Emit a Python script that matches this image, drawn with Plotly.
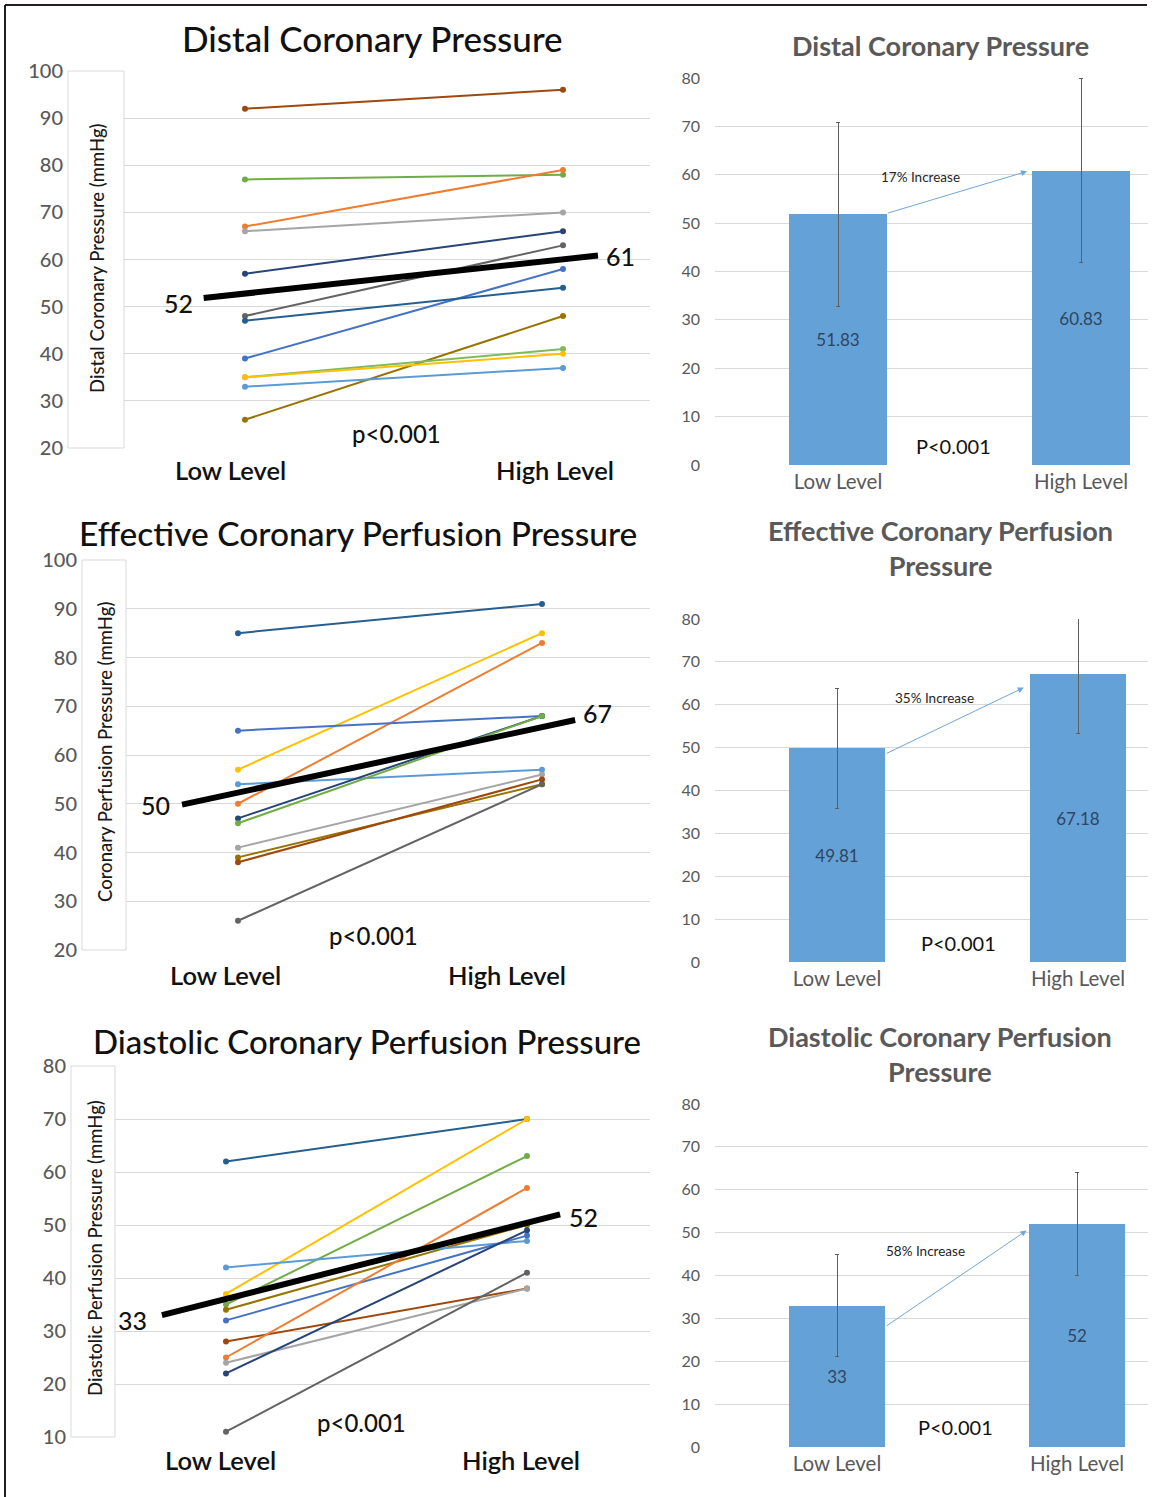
import plotly.graph_objects as go

W, H = 1158, 1497
FONT = "Lato"

def px(x):
    return x / W

def py(y):
    return 1 - y / H

# ---------------- data ----------------
categories = ["Low Level", "High Level"]

# Distal coronary pressure (individual subjects)
dcp_low = [92, 77, 67, 66, 57, 48, 39, 47, 26, 35, 35, 33]
dcp_high = [96, 78, 79, 70, 66, 63, 58, 54, 48, 41, 40, 37]
dcp_colors = ["#9E480E", "#70AD47", "#ED7D31", "#A5A5A5", "#264478", "#636363",
              "#4472C4", "#255E91", "#997300", "#7FBA5C", "#FFC000", "#5B9BD5"]

# Effective coronary perfusion pressure
ecpp_low = [85, 57, 50, 65, 54, 47, 46, 41, 39, 38, 26]
ecpp_high = [91, 85, 83, 68, 57, 68, 68, 56, 54, 55, 54]
ecpp_colors = ["#255E91", "#FFC000", "#ED7D31", "#4472C4", "#5B9BD5", "#264478",
               "#70AD47", "#A5A5A5", "#997300", "#9E480E", "#636363"]

# Diastolic coronary perfusion pressure
dpp_low = [62, 37, 35, 34, 42, 32, 28, 25, 24, 22, 11]
dpp_high = [70, 70, 63, 50, 47, 48, 38, 57, 38, 49, 41]
dpp_colors = ["#255E91", "#FFC000", "#70AD47", "#997300", "#5B9BD5", "#4472C4",
              "#9E480E", "#ED7D31", "#A5A5A5", "#264478", "#636363"]

# Group means and SD
mean_low = [51.83, 49.81, 33]
mean_high = [60.83, 67.18, 52]
mean_low_label = ["52", "50", "33"]
mean_high_label = ["61", "67", "52"]
sd_low = [19, 14, 12]
sd_high = [19, 14, 12]
increase_text = ["17% Increase", "35% Increase", "58% Increase"]
p_text_line = "p<0.001"
p_text_bar = "P<0.001"

line_titles = ["Distal Coronary Pressure", "Effective Coronary Perfusion Pressure",
               "Diastolic Coronary Perfusion Pressure"]
bar_titles = ["Distal Coronary Pressure", "Effective Coronary Perfusion<br>Pressure",
              "Diastolic Coronary Perfusion<br>Pressure"]
y_titles = ["Distal Coronary Pressure (mmHg)", "Coronary Perfusion Pressure (mmHg)",
            "Diastolic Perfusion Pressure (mmHg)"]

series_low = [dcp_low, ecpp_low, dpp_low]
series_high = [dcp_high, ecpp_high, dpp_high]
series_colors = [dcp_colors, ecpp_colors, dpp_colors]

# ---------------- layout geometry (pixels) ----------------
line_geo = [
    dict(xdom=(68, 650), c=(245, 563), ydom=(71, 448), yr=(20, 100), box=(68, 124),
         title=(372, 38), tsize=35, ytitle=(97, 258), cats=((230, 470), (555, 470)),
         p=(396, 434), mx=(-0.13, 1.11), mlab=((178, 303), (620, 256))),
    dict(xdom=(82, 650), c=(238, 542), ydom=(560, 950), yr=(20, 100), box=(82, 126),
         title=(358, 533), tsize=33.5, ytitle=(105, 752), cats=((225, 975), (507, 975)),
         p=(373, 935), mx=(-0.184, 1.109), mlab=((155, 805), (597, 713))),
    dict(xdom=(71, 650), c=(226, 527), ydom=(1066, 1437), yr=(10, 80), box=(71, 115),
         title=(367, 1041), tsize=33, ytitle=(95, 1248), cats=((220, 1460), (521, 1460)),
         p=(361, 1422), mx=(-0.213, 1.11), mlab=((132, 1320), (583, 1217))),
]
bar_geo = [
    dict(xdom=(715, 1148), c=(838, 1081), ydom=(78, 465), title=(940, 46),
         inc=(920, 177), p=(953, 446), arrow=((0.2, 52), (0.778, 60.7))),
    dict(xdom=(715, 1148), c=(837, 1078), ydom=(619, 962), title=(940, 548),
         inc=(935, 698), p=(958, 943), arrow=((0.2, 48.5), (0.775, 64))),
    dict(xdom=(715, 1148), c=(837, 1077), ydom=(1104, 1447), title=(940, 1054),
         inc=(925, 1251), p=(955, 1427), arrow=((0.2, 28), (0.79, 50.5))),
]

fig = go.Figure()
annotations = []
shapes = []
layout_axes = {}

GRID = "#D9D9D9"
TICK = "#595959"


def txt(x, y, text, size, color="#111111", angle=0, weight=400):
    return dict(xref="paper", yref="paper", x=px(x), y=py(y), text=text,
                xanchor="center", yanchor="middle", textangle=angle, showarrow=False,
                font=dict(family=FONT, size=size, color=color, weight=weight))


# ---------------- line panels ----------------
for i, g in enumerate(line_geo):
    n = i + 1
    xa = "x" if n == 1 else f"x{n}"
    ya = "y" if n == 1 else f"y{n}"
    c0, c1 = g["c"]
    xr = [(g["xdom"][0] - c0) / (c1 - c0), (g["xdom"][1] - c0) / (c1 - c0)]
    for lo, hi, col in zip(series_low[i], series_high[i], series_colors[i]):
        fig.add_trace(go.Scatter(
            x=[0, 1], y=[lo, hi], mode="lines+markers",
            line=dict(color=col, width=2), marker=dict(color=col, size=6),
            xaxis=xa, yaxis=ya, showlegend=False, hoverinfo="y"))
    fig.add_trace(go.Scatter(
        x=list(g["mx"]), y=[mean_low[i], mean_high[i]], mode="lines",
        line=dict(color="black", width=6), xaxis=xa, yaxis=ya,
        showlegend=False, hoverinfo="y"))
    layout_axes[f"xaxis{'' if n == 1 else n}"] = dict(
        domain=[px(g["xdom"][0]), px(g["xdom"][1])], range=xr, showgrid=False,
        zeroline=False, showticklabels=False, showline=False, anchor=ya,
        fixedrange=True, automargin=False)
    layout_axes[f"yaxis{'' if n == 1 else n}"] = dict(
        domain=[py(g["ydom"][1]), py(g["ydom"][0])], range=list(g["yr"]), dtick=10,
        showgrid=True, gridcolor=GRID, gridwidth=1, zeroline=False, showline=False,
        tickfont=dict(family=FONT, size=20, color=TICK, weight=500), anchor=xa, ticks="",
        ticklabelstandoff=4, automargin=False)
    # white axis-title box
    shapes.append(dict(type="rect", xref="paper", yref="paper",
                       x0=px(g["box"][0]), x1=px(g["box"][1]),
                       y0=py(g["ydom"][1]), y1=py(g["ydom"][0]),
                       fillcolor="white", line=dict(color=GRID, width=1), layer="above"))
    annotations.append(txt(g["ytitle"][0], g["ytitle"][1], y_titles[i], 18.5, "#1a1a1a", -90, 500))
    annotations.append(txt(g["title"][0], g["title"][1], line_titles[i], g["tsize"], "#111111", 0, 500))
    for (cx, cy), lab in zip(g["cats"], categories):
        annotations.append(txt(cx, cy, lab, 25.5, "#111111", 0, 600))
    annotations.append(txt(g["p"][0], g["p"][1], p_text_line, 24, "#111111", 0, 500))
    for (lx, ly), lab in zip(g["mlab"], [mean_low_label[i], mean_high_label[i]]):
        annotations.append(txt(lx, ly, lab, 25, "#111111", 0, 500))

# ---------------- bar panels ----------------
for i, g in enumerate(bar_geo):
    n = i + 4
    xa, ya = f"x{n}", f"y{n}"
    c0, c1 = g["c"]
    xr = [(g["xdom"][0] - c0) / (c1 - c0), (g["xdom"][1] - c0) / (c1 - c0)]
    vals = [mean_low[i], mean_high[i]]
    fig.add_trace(go.Bar(
        x=[0, 1], y=vals, width=0.4, xaxis=xa, yaxis=ya, showlegend=False,
        marker=dict(color="#64A1D7", line=dict(width=0)),
        text=[f"{v:g}" for v in vals], textposition="inside", insidetextanchor="middle",
        textangle=0, textfont=dict(family=FONT, size=17, color="#2F4560"),
        error_y=dict(type="data", array=[sd_low[i], sd_high[i]], color="#5f5f5f",
                     thickness=1, width=2),
        cliponaxis=False, hoverinfo="y"))
    layout_axes[f"xaxis{n}"] = dict(
        domain=[px(g["xdom"][0]), px(g["xdom"][1])], range=xr, showgrid=False,
        zeroline=False, showline=False, tickvals=[0, 1], ticktext=categories,
        tickfont=dict(family=FONT, size=20.5, color=TICK), anchor=ya, ticks="",
        ticklabelstandoff=2, automargin=False)
    layout_axes[f"yaxis{n}"] = dict(
        domain=[py(g["ydom"][1]), py(g["ydom"][0])], range=[0, 80], dtick=10,
        showgrid=True, gridcolor=GRID, gridwidth=1, zeroline=False, showline=False,
        tickfont=dict(family=FONT, size=16, color=TICK), anchor=xa, ticks="",
        ticklabelstandoff=14, automargin=False)
    annotations.append(txt(g["title"][0], g["title"][1], bar_titles[i], 27, "#595959", 0, 700))
    annotations.append(txt(g["inc"][0], g["inc"][1], increase_text[i], 13.5, "#262626"))
    annotations.append(txt(g["p"][0], g["p"][1], p_text_bar, 20))
    (sx, sy), (ex, ey) = g["arrow"]
    annotations.append(dict(xref=xa, yref=ya, axref=xa, ayref=ya, x=ex, y=ey, ax=sx, ay=sy,
                            text="", showarrow=True, arrowhead=2, arrowsize=1.2,
                            arrowwidth=1, arrowcolor="#6FA6DA", standoff=0))

# frame lines
shapes.append(dict(type="line", xref="paper", yref="paper", x0=px(5), x1=px(1147),
                   y0=py(5), y1=py(5), line=dict(color="#231F20", width=2)))
shapes.append(dict(type="line", xref="paper", yref="paper", x0=px(5), x1=px(5),
                   y0=py(5), y1=0, line=dict(color="#231F20", width=2)))

fig.update_layout(
    width=W, height=H, margin=dict(l=0, r=0, t=0, b=0, pad=0, autoexpand=False),
    paper_bgcolor="white", plot_bgcolor="white",
    annotations=annotations, shapes=shapes, bargap=0,
    font=dict(family=FONT),
    **layout_axes,
)

fig.write_html("out.html", config={"displayModeBar": False},
               post_script="document.body.style.margin='0';document.body.style.overflow='hidden';")
